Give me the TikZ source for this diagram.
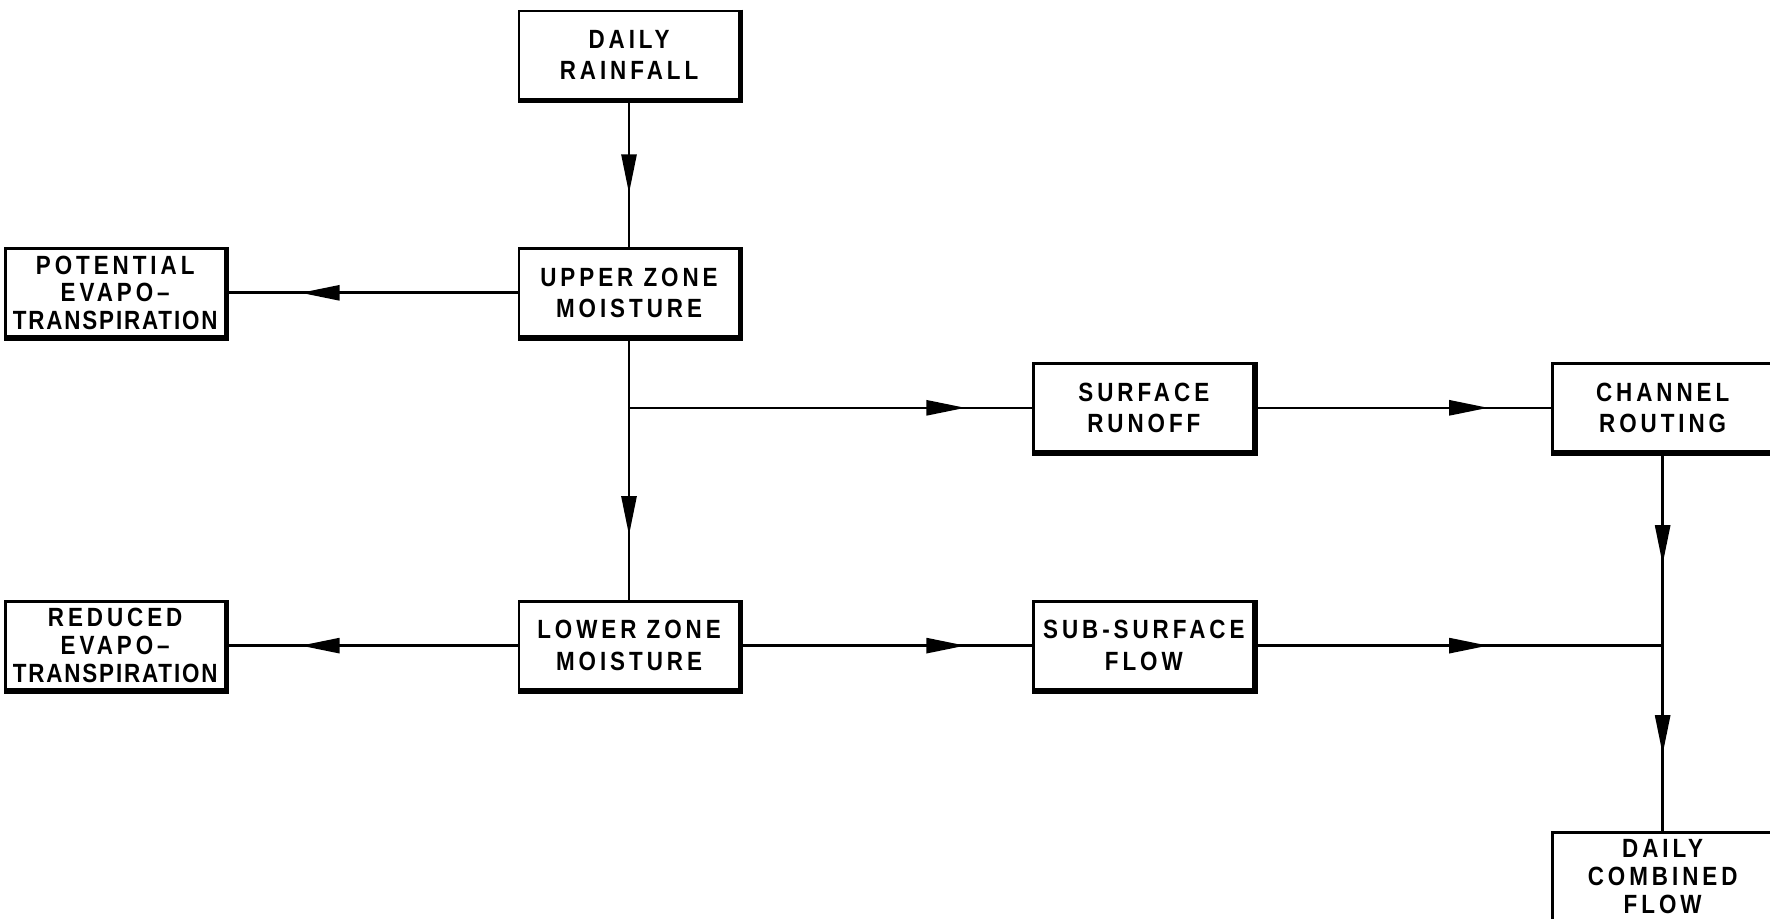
\documentclass[tikz,border=0pt]{standalone}
\usepackage{fontspec}
\usetikzlibrary{positioning, arrows.meta, decorations.markings}
\newfontfamily\boxfont{Liberation Sans}[FakeStretch=0.85, LetterSpace=15]
\newfontfamily\tightfont{Liberation Sans}[FakeStretch=0.85, LetterSpace=7]

\begin{document}
\begin{tikzpicture}[
    box/.style={rectangle, draw, line width=0.8pt, minimum width=2.2cm, minimum height=0.88cm,
        inner sep=0pt, align=center, font=\boxfont\bfseries\fontsize{7.5}{9}\selectfont},
    tallbox/.style={box, font=\boxfont\bfseries\fontsize{7.5}{7.9}\selectfont},
    flowtip/.tip={Triangle[length=3.9mm, width=1.5mm]},
    flow/.style={line width=0.75pt, postaction={decorate},
        decoration={markings, mark=at position #1 with {\arrow{flowtip}}}},
    flow/.default=-0.65cm]

\useasboundingbox (0,0) rectangle (17.7,-9.18);
\fill[white] (0,0) rectangle (17.7,-9.18);

% Nodes
\node [box] (rain) at (6.29,-0.55) {DAILY\\RAINFALL};
\node [box, below=1.47cm of rain] (upper) {UPPER\ ZONE\\MOISTURE};
\node [tallbox, left=2.91cm of upper] (potential) {POTENTIAL\\EVAPO–\\{\tightfont\bfseries TRANSPIRATION}};
\node [box, below=2.62cm of upper] (lower) {LOWER\ ZONE\\MOISTURE};
\node [tallbox, left=2.91cm of lower] (reduced) {REDUCED\\EVAPO–\\{\tightfont\bfseries TRANSPIRATION}};
\node [box, right=2.92cm of lower] (sub) {SUB-SURFACE\\FLOW};
\node [box, above=1.47cm of sub] (surface) {SURFACE\\RUNOFF};
\node [box, right=2.96cm of surface] (channel) {CHANNEL\\ROUTING};
\node [tallbox, below=3.78cm of channel] (combined) {DAILY\\COMBINED\\FLOW};

% Heavier lower and right edges
\foreach \n in {rain, upper, potential, lower, reduced, sub, surface, channel, combined}
    \draw [line width=1.4pt] (\n.north east) -- (\n.south east) -- (\n.south west);

% Junctions
\coordinate (split) at (upper.south |- surface.west);
\coordinate (join) at (channel.south |- sub.east);

% Arrows
\draw [flow=-0.54cm] (rain) -- (upper);
\draw [flow=-0.74cm] (upper) -- (potential);
\draw [flow=-0.65cm] (upper) -- (lower);
\draw [flow=-0.67cm] (split) -- (surface);
\draw [flow=-0.63cm] (surface) -- (channel);
\draw [flow=-0.74cm] (lower) -- (reduced);
\draw [flow=-0.67cm] (lower) -- (sub);
\draw [flow=2.33cm] (sub) -- (join);
\draw [flow=1.11cm] (channel) -- (join);
\draw [flow=-0.77cm] (join) -- (combined);

\end{tikzpicture}
\end{document}
